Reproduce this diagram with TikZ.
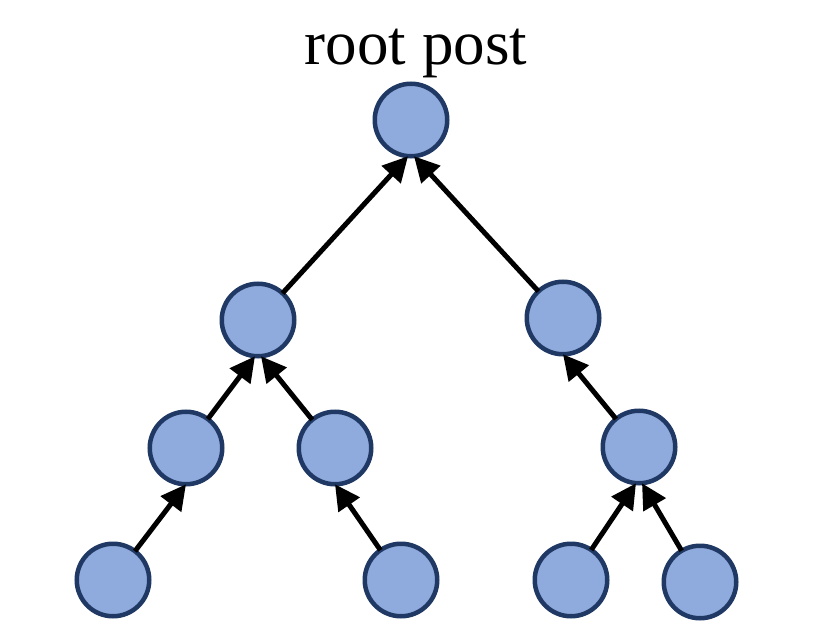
\documentclass[tikz,border=0pt]{standalone}
\usepackage{fontspec}
\setmainfont{Liberation Serif}
\usetikzlibrary{arrows.meta}
\definecolor{nodefill}{HTML}{8FAADC}
\definecolor{nodeline}{HTML}{1F3864}
\begin{document}
\begin{tikzpicture}[x=1pt,y=-1pt,
  post/.style={circle,draw=nodeline,fill=nodefill,line width=4.5pt,minimum size=72.5pt,inner sep=0pt,outer sep=0pt},
  link/.style={line width=5pt,-{Triangle[length=25pt,width=25pt]}}]
\useasboundingbox (0,0) rectangle (829,636);
\node[anchor=base,font=\fontsize{63}{70}\selectfont] (title) at (416,65) {root post};
\node[post] (root) at (411,120) {};
\node[post] (l1) at (258,320) {};
\node[post] (r1) at (563,318) {};
\node[post] (ll) at (186,448) {};
\node[post] (lr) at (335,448) {};
\node[post] (rr) at (639,447) {};
\node[post] (a) at (113,580) {};
\node[post] (b) at (401,580) {};
\node[post] (c) at (571,580) {};
\node[post] (d) at (700,582) {};
\draw[link] (l1) -- ([xshift=-3pt]root.south);
\draw[link] (r1) -- ([xshift=3pt]root.south);
\draw[link] (ll) -- ([xshift=-3pt]l1.south);
\draw[link] (lr) -- ([xshift=3pt]l1.south);
\draw[link] (rr) -- (r1.south);
\draw[link] (a) -- (ll.south);
\draw[link] (b) -- (lr.south);
\draw[link] (c) -- ([xshift=-3pt]rr.south);
\draw[link] (d) -- ([xshift=3pt]rr.south);
\end{tikzpicture}
\end{document}
